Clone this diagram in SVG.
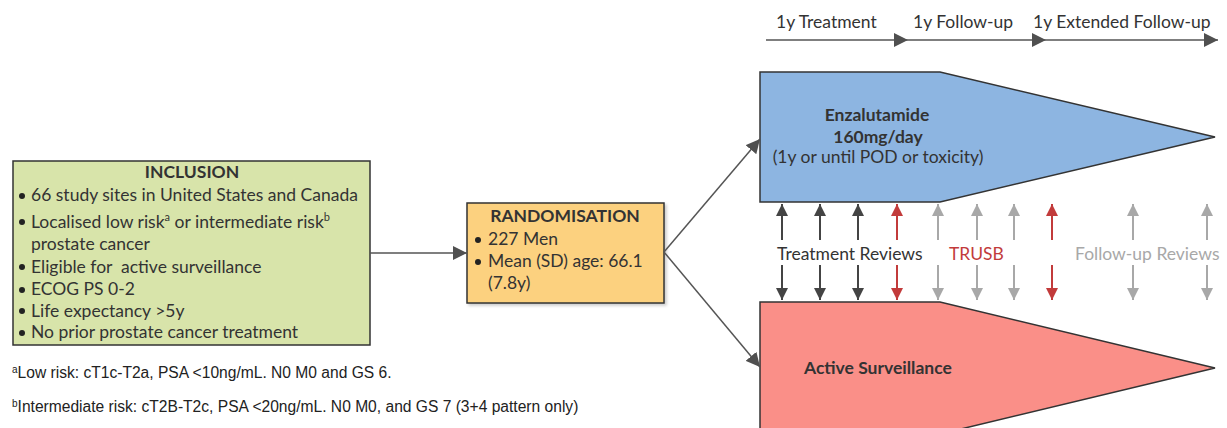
<svg xmlns="http://www.w3.org/2000/svg" width="1227" height="428" viewBox="0 0 1227 428">
  <defs>
    <marker id="tipLg" viewBox="0 0 12 12" refX="12" refY="6" markerWidth="14" markerHeight="14" markerUnits="userSpaceOnUse" orient="auto">
      <path d="M0,0 L12,6 L0,12 Z" fill="#505050"/>
    </marker>
    <marker id="tipDark" viewBox="0 0 10 10" refX="10" refY="5" markerWidth="12" markerHeight="12" markerUnits="userSpaceOnUse" orient="auto">
      <path d="M0,0 L10,5 L0,10 Z" fill="#444"/>
    </marker>
    <marker id="tipRed" viewBox="0 0 10 10" refX="10" refY="5" markerWidth="12" markerHeight="12" markerUnits="userSpaceOnUse" orient="auto">
      <path d="M0,0 L10,5 L0,10 Z" fill="#c23b3b"/>
    </marker>
    <marker id="tipGrey" viewBox="0 0 10 10" refX="10" refY="5" markerWidth="12" markerHeight="12" markerUnits="userSpaceOnUse" orient="auto">
      <path d="M0,0 L10,5 L0,10 Z" fill="#a8a8a8"/>
    </marker>
    <filter id="shadow" x="-10%" y="-10%" width="125%" height="130%">
      <feDropShadow dx="2" dy="2" stdDeviation="1.5" flood-color="#000" flood-opacity="0.2"/>
    </filter>
  </defs>
  <style>
    text { font-family: Lato, "Open Sans", sans-serif; fill: #333; }
    .body { font-size: 17.5px; }
    .bold { font-weight: bold; }
    .box { stroke: #333; stroke-width: 1.5; }
    .link { fill: none; stroke: #555; stroke-width: 1.5; }
    .foot { font-family: "Liberation Sans", Arial, sans-serif; font-size: 15.6px; fill: #222; }
    .rev-dark { stroke: #444; stroke-width: 2; fill: none; }
    .rev-red { stroke: #c23b3b; stroke-width: 2; fill: none; }
    .rev-grey { stroke: #a8a8a8; stroke-width: 2; fill: none; }
  </style>

  <!-- timeline -->
  <g id="timeline">
    <line class="link" x1="766" y1="40" x2="908" y2="40" marker-end="url(#tipLg)"/>
    <line class="link" x1="908" y1="40" x2="1046" y2="40" marker-end="url(#tipLg)"/>
    <line class="link" x1="1046" y1="40" x2="1218" y2="40" marker-end="url(#tipLg)"/>
    <text class="body" x="776" y="28">1y Treatment</text>
    <text class="body" x="913" y="28">1y Follow-up</text>
    <text class="body" x="1033" y="28">1y Extended Follow-up</text>
  </g>

  <!-- inclusion criteria -->
  <g id="inclusion">
    <rect class="box" x="13" y="161" width="357" height="184" fill="#d8e4aa"/>
    <text class="body bold" x="192" y="178" text-anchor="middle">INCLUSION</text>
    <g fill="#222">
      <circle cx="22" cy="196" r="3"/>
      <circle cx="22" cy="222" r="3"/>
      <circle cx="22" cy="267" r="3"/>
      <circle cx="22" cy="290" r="3"/>
      <circle cx="22" cy="311" r="3"/>
      <circle cx="22" cy="333" r="3"/>
    </g>
    <text class="body" x="31" y="201">66 study sites in United States and Canada</text>
    <text class="body" x="31" y="228">Localised low risk<tspan font-size="11" dy="-7">a</tspan><tspan dy="7"> or intermediate risk</tspan><tspan font-size="11" dy="-7">b</tspan></text>
    <text class="body" x="31" y="250">prostate cancer</text>
    <text class="body" x="31" y="273">Eligible for&#160; active surveillance</text>
    <text class="body" x="31" y="295">ECOG PS 0-2</text>
    <text class="body" x="31" y="317">Life expectancy &gt;5y</text>
    <text class="body" x="31" y="338">No prior prostate cancer treatment</text>
  </g>

  <!-- randomisation -->
  <g id="randomisation">
    <rect class="box" x="467" y="203" width="197" height="100" fill="#fcd17f" filter="url(#shadow)"/>
    <text class="body bold" x="565" y="222" text-anchor="middle">RANDOMISATION</text>
    <g fill="#222">
      <circle cx="478" cy="240" r="3"/>
      <circle cx="478" cy="262" r="3"/>
    </g>
    <text class="body" x="488" y="245">227 Men</text>
    <text class="body" x="488" y="267">Mean (SD) age: 66.1</text>
    <text class="body" x="488" y="289">(7.8y)</text>
  </g>

  <!-- treatment arm -->
  <g id="enzalutamide">
    <polygon class="box" points="760,72 940,72 1215,137 940,202 760,202" fill="#8db5e1"/>
    <text class="body bold" x="877" y="121" text-anchor="middle">Enzalutamide</text>
    <text class="body bold" x="878" y="143" text-anchor="middle">160mg/day</text>
    <text class="body" x="878" y="163" text-anchor="middle" fill="#444">(1y or until POD or toxicity)</text>
  </g>

  <!-- surveillance arm -->
  <g id="active-surveillance">
    <polygon class="box" points="760,302 940,302 1215,368 940,434 760,434" fill="#fa8f88"/>
    <text class="body bold" x="804" y="374">Active Surveillance</text>
  </g>

  <!-- connectors -->
  <g id="connectors">
    <line class="link" x1="370" y1="253" x2="467" y2="253" marker-end="url(#tipLg)"/>
    <line class="link" x1="664" y1="252" x2="760" y2="139" marker-end="url(#tipLg)"/>
    <line class="link" x1="664" y1="252" x2="760" y2="367" marker-end="url(#tipLg)"/>
  </g>

  <!-- review schedule: up arrows to treatment arm, down arrows to surveillance arm -->
  <g id="reviews">
    <g class="rev-dark">
      <line x1="782" y1="240" x2="782" y2="204" marker-end="url(#tipDark)"/>
      <line x1="820" y1="240" x2="820" y2="204" marker-end="url(#tipDark)"/>
      <line x1="858" y1="240" x2="858" y2="204" marker-end="url(#tipDark)"/>
      <line x1="782" y1="265" x2="782" y2="300" marker-end="url(#tipDark)"/>
      <line x1="820" y1="265" x2="820" y2="300" marker-end="url(#tipDark)"/>
      <line x1="858" y1="265" x2="858" y2="300" marker-end="url(#tipDark)"/>
    </g>
    <g class="rev-red">
      <line x1="897" y1="240" x2="897" y2="204" marker-end="url(#tipRed)"/>
      <line x1="1052" y1="240" x2="1052" y2="204" marker-end="url(#tipRed)"/>
      <line x1="897" y1="265" x2="897" y2="300" marker-end="url(#tipRed)"/>
      <line x1="1052" y1="265" x2="1052" y2="300" marker-end="url(#tipRed)"/>
    </g>
    <g class="rev-grey">
      <line x1="938" y1="240" x2="938" y2="204" marker-end="url(#tipGrey)"/>
      <line x1="977" y1="240" x2="977" y2="204" marker-end="url(#tipGrey)"/>
      <line x1="1014" y1="240" x2="1014" y2="204" marker-end="url(#tipGrey)"/>
      <line x1="1133" y1="240" x2="1133" y2="204" marker-end="url(#tipGrey)"/>
      <line x1="1207" y1="240" x2="1207" y2="204" marker-end="url(#tipGrey)"/>
      <line x1="938" y1="265" x2="938" y2="300" marker-end="url(#tipGrey)"/>
      <line x1="977" y1="265" x2="977" y2="300" marker-end="url(#tipGrey)"/>
      <line x1="1014" y1="265" x2="1014" y2="300" marker-end="url(#tipGrey)"/>
      <line x1="1133" y1="265" x2="1133" y2="300" marker-end="url(#tipGrey)"/>
      <line x1="1207" y1="265" x2="1207" y2="300" marker-end="url(#tipGrey)"/>
    </g>
    <text class="body" x="777" y="260" fill="#333">Treatment Reviews</text>
    <text class="body" x="949" y="260" style="fill:#c23b3b">TRUSB</text>
    <text class="body" x="1075" y="260" style="fill:#a8a8a8">Follow-up Reviews</text>
  </g>

  <!-- footnotes -->
  <g id="footnotes">
    <text class="foot" x="12" y="378"><tspan font-size="10" dy="-5">a</tspan><tspan dy="5">Low risk: cT1c-T2a, PSA &lt;10ng/mL. N0 M0 and GS 6.</tspan></text>
    <text class="foot" x="12" y="412"><tspan font-size="10" dy="-5">b</tspan><tspan dy="5">Intermediate risk: cT2B-T2c, PSA &lt;20ng/mL. N0 M0, and GS 7 (3+4 pattern only)</tspan></text>
  </g>
</svg>
